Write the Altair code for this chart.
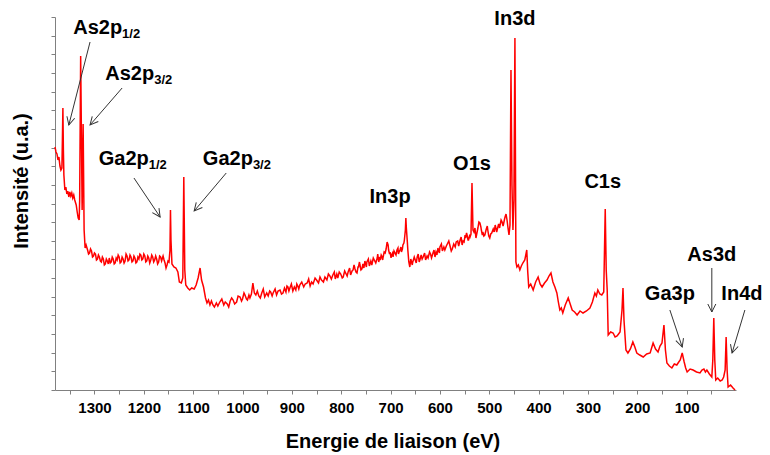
import math
import altair as alt
import pandas as pd

# ---- spectrum (binding energy in eV, intensity in arbitrary units), by region ----
as2p_E = [1380, 1378, 1376, 1374, 1372, 1370, 1368, 1366, 1365, 1364,
          1363, 1362, 1360, 1358, 1356, 1354, 1352, 1350, 1348, 1346,
          1344, 1342, 1340, 1337, 1335, 1333, 1331, 1330, 1328, 1326,
          1325, 1323, 1321, 1319, 1317, 1314, 1312, 1310, 1308, 1306]
as2p_I = [243, 238, 236, 230, 233, 224, 220, 222, 250, 282,
          240, 215, 200, 203, 196, 199, 193, 198, 194, 197,
          192, 195, 190, 185, 178, 172, 170, 190, 334, 230,
          180, 266, 160, 142, 145, 140, 136, 137, 141, 139]

ga2p_E = [1304, 1302, 1300, 1298, 1296, 1294, 1292, 1290, 1288, 1286,
          1284, 1282, 1280, 1278, 1276, 1274, 1272, 1270, 1268, 1266,
          1264, 1262, 1260, 1258, 1256, 1254, 1252, 1250, 1248, 1246,
          1244, 1242, 1240, 1238, 1236, 1234, 1232, 1230, 1228, 1226,
          1224, 1222, 1220, 1218, 1216, 1214, 1212, 1210, 1208, 1206,
          1204, 1202, 1200, 1198, 1196, 1194, 1192, 1190, 1188, 1186,
          1184, 1182, 1180, 1178, 1176, 1174, 1172, 1170, 1168, 1166,
          1164, 1161, 1159, 1157, 1155, 1153, 1151, 1149, 1147, 1146,
          1145, 1143, 1139, 1135, 1131, 1128, 1124, 1121, 1119, 1117,
          1115, 1111, 1107, 1103, 1098, 1094, 1090, 1086, 1083, 1079,
          1075, 1072, 1069]
ga2p_I = [133, 134, 137, 136, 130, 131, 135, 133, 129, 128,
          133, 131, 125, 126, 131, 129, 126, 132, 127, 128,
          133, 131, 126, 127, 132, 130, 135, 133, 127, 128,
          133, 131, 127, 129, 136, 134, 129, 130, 135, 133,
          128, 129, 134, 132, 127, 128, 133, 131, 136, 135,
          130, 131, 136, 134, 128, 129, 134, 132, 127, 130,
          135, 133, 128, 130, 134, 131, 126, 128, 134, 133,
          129, 134, 130, 127, 122, 125, 129, 128, 140, 180,
          150, 126, 123, 122, 118, 108, 107, 112, 213, 120,
          105, 102, 100, 102, 101, 105, 112, 122, 110, 103,
          92, 87, 90]

broad_E = [1066, 1063, 1060, 1057, 1053, 1050, 1046, 1042, 1038, 1035,
           1031, 1028, 1025, 1022, 1019, 1016, 1012, 1009, 1005, 1002,
           1000, 997, 995, 992, 990, 987, 985, 982, 979, 976,
           973, 970, 967, 964, 961, 958, 955, 951, 948, 945,
           943, 940, 938, 934, 931, 928, 924, 921, 918, 915,
           912, 910, 908, 906, 904, 901, 898, 895, 892, 890,
           888, 886, 884, 880, 876, 873, 869, 866, 863, 860,
           857, 853, 850, 846, 843, 840, 836, 833, 829, 826,
           823, 820, 817, 814, 812, 809, 807, 804, 801, 798,
           796, 793, 791, 788, 786, 783, 781, 778, 776, 774,
           772, 770, 768, 766, 765, 763, 762, 760, 758, 756,
           754, 752, 751, 749, 748, 745, 743, 740, 738, 735,
           733, 730, 727, 726, 724, 722, 721, 719, 718, 716,
           715, 713, 711, 709, 707, 705, 704, 702, 701, 699,
           698, 696, 695, 693, 691, 689, 687, 685, 684, 682,
           681, 679, 678, 676, 675, 673, 672, 670, 669, 668,
           667, 666, 665, 663, 661, 659, 658, 656, 655, 652,
           650, 648, 646, 644, 642, 640, 638, 636, 634, 631,
           629, 626, 624, 621, 619, 617, 614, 612, 610, 608,
           606, 604, 603, 601, 600, 597, 595, 592, 590, 587,
           585, 582, 580, 577, 575, 572, 569, 567, 564, 562,
           559, 557, 555, 553, 551, 549, 548, 546, 545, 543,
           542, 540, 539, 537, 535, 533, 531, 529, 527, 525,
           523, 521, 519, 517, 516, 514, 513, 511, 509, 507,
           506, 504, 503, 501, 499, 497, 495, 492, 490, 488,
           487, 485, 484, 482, 481, 479, 478, 476, 474, 472,
           471, 469, 468, 466, 464, 462, 460, 458]
broad_I = [85, 89, 85, 83, 87, 84, 88, 91, 85, 88,
           86, 83, 89, 92, 90, 86, 88, 94, 93, 89,
           91, 97, 95, 91, 90, 95, 92, 96, 107, 97,
           95, 99, 94, 92, 97, 101, 93, 97, 94, 99,
           98, 94, 97, 101, 95, 99, 100, 96, 97, 102,
           98, 104, 103, 99, 102, 106, 99, 103, 100, 106,
           104, 101, 105, 108, 103, 106, 107, 111, 104, 108,
           106, 112, 110, 107, 113, 110, 108, 113, 110, 116,
           114, 111, 115, 118, 111, 116, 112, 118, 116, 112,
           113, 119, 117, 114, 118, 122, 115, 119, 120, 125,
           121, 118, 117, 123, 123, 128, 125, 120, 121, 126,
           122, 129, 127, 123, 128, 131, 124, 129, 125, 132,
           130, 127, 132, 136, 128, 133, 130, 135, 134, 130,
           133, 138, 137, 141, 148, 145, 140, 136, 138, 132,
           135, 137, 133, 139, 137, 135, 140, 142, 136, 139,
           140, 143, 138, 141, 145, 147, 150, 160, 172, 162,
           155, 148, 140, 128, 123, 131, 129, 125, 128, 133,
           130, 127, 133, 136, 128, 131, 135, 131, 133, 137,
           130, 134, 132, 138, 136, 132, 137, 140, 133, 138,
           135, 142, 140, 137, 143, 146, 139, 143, 140, 144,
           146, 149, 145, 139, 141, 146, 143, 148, 149, 144,
           150, 153, 145, 149, 148, 155, 152, 157, 155, 150,
           150, 154, 153, 156, 207, 160, 158, 162, 152, 157,
           162, 168, 167, 163, 160, 155, 158, 154, 155, 159,
           161, 164, 160, 154, 152, 156, 157, 161, 158, 165,
           163, 158, 160, 164, 166, 162, 165, 170, 168, 164,
           166, 171, 173, 176, 170, 162, 155, 165]

low_E = [456, 454, 452, 450, 448, 446, 444, 441, 438, 435,
         432, 428, 424, 422, 420, 416, 411, 406, 401, 397,
         393, 388, 383, 379, 375, 371, 367, 363, 360, 357,
         354, 351, 346, 340, 336, 332, 327, 322, 316, 310,
         303, 296, 291, 286, 283, 280, 276, 272, 268, 265,
         263, 261, 259, 254, 249, 245, 241, 238, 235, 231,
         229, 227, 223, 219, 214, 209, 205, 201, 195, 188,
         181, 174, 171, 168, 163, 158, 154, 150, 146, 143,
         140, 135, 130, 125, 120, 116, 113, 109, 105, 102,
         99, 93, 87, 80, 73, 69, 65, 62, 59, 54,
         49, 47, 45, 43, 41, 37, 32, 28, 25, 22,
         20, 18, 16, 11, 6, 2]
low_I = [320, 205, 160, 190, 352, 128, 123, 125, 120, 124,
         127, 130, 140, 118, 103, 106, 100, 108, 113, 106,
         103, 107, 110, 114, 117, 108, 103, 97, 88, 80,
         82, 77, 85, 92, 86, 80, 78, 75, 79, 77,
         79, 82, 88, 97, 94, 100, 96, 95, 98, 181,
         120, 100, 55, 58, 57, 53, 54, 56, 58, 80,
         102, 70, 40, 37, 41, 48, 43, 37, 35, 33,
         36, 37, 42, 47, 41, 38, 44, 47, 65, 40,
         27, 24, 22, 26, 25, 28, 30, 37, 28, 22,
         18, 21, 20, 18, 17, 20, 21, 18, 20, 16,
         13, 30, 72, 30, 10, 12, 9, 10, 13, 20,
         53, 20, 3, 5, 2, 0]

# ---- axis ticks ----
x_tick_values = [1350, 1300, 1250, 1200, 1150, 1100, 1050, 1000, 950, 900, 850, 800, 750,
                 700, 650, 600, 550, 500, 450, 400, 350, 300, 250, 200, 150, 100, 50]

# ---- annotations (positions in data units) ----
sub_main_text = ["As2p", "As2p", "Ga2p", "Ga2p"]
sub_small_text = ["1/2", "3/2", "1/2", "3/2"]
sub_E = [1244, 1179, 1190, 979]
sub_main_I = [356, 310, 225, 225]
sub_small_I = [352, 306, 221, 221]

peak_text = ["In3p", "O1s", "In3d", "C1s", "Ga3p", "As3d", "In4d"]
peak_E = [701, 535, 448, 270, 134, 49, -12]
peak_I = [187, 220, 365, 202, 90, 129, 90]

arrow_E1 = [1309, 1244, 1220, 1033, 134, 49, -18]
arrow_I1 = [348, 302, 212, 217, 80, 122, 80]
arrow_E2 = [1352, 1309, 1167, 1098, 109, 49, 8]
arrow_I2 = [265, 265, 173, 179, 43, 78, 37]

W, H = 681, 373
E_MAX, I_MAX = 1380, 373
FONT = "Liberation Sans"

energy_eV = as2p_E + ga2p_E + broad_E + low_E
intensity = as2p_I + ga2p_I + broad_I + low_I
spec = pd.DataFrame({"E": energy_eV, "I": intensity})

angles = []
for e1, i1, e2, i2 in zip(arrow_E1, arrow_I1, arrow_E2, arrow_I2):
    dx = -(e2 - e1) * W / E_MAX
    dy = -(i2 - i1) * H / I_MAX
    angles.append(math.degrees(math.atan2(dy, dx)) % 360)
arrows = pd.DataFrame({"E1": arrow_E1, "I1": arrow_I1, "E2": arrow_E2, "I2": arrow_I2, "ang": angles})
subs = pd.DataFrame({"t": sub_main_text, "s": sub_small_text, "E": sub_E, "I": sub_main_I, "Is": sub_small_I})
peaks = pd.DataFrame({"t": peak_text, "E": peak_E, "I": peak_I})

xscale = alt.Scale(domain=[0, E_MAX], reverse=True, nice=False, zero=False)
yscale = alt.Scale(domain=[0, I_MAX], nice=False, zero=False)

y_tick_values = [round(i * I_MAX / 20, 3) for i in range(21)]

xaxis = alt.Axis(
    values=x_tick_values, format="d",
    labelExpr="datum.value % 100 == 0 ? datum.label : ''",
    title=None, grid=False, tickSize=4, labelPadding=6,
    labelFont=FONT, labelFontWeight="bold", labelFontSize=15, labelColor="#000000",
    domainColor="#808080", tickColor="#808080", labelFlush=False, labelOverlap=False)
yaxis = alt.Axis(
    values=y_tick_values, labels=False, title=None, grid=False, tickSize=4,
    domainColor="#808080", tickColor="#808080")


def X(f):
    return alt.X(f, scale=xscale, axis=xaxis, title=None)


def Y(f):
    return alt.Y(f, scale=yscale, axis=yaxis, title=None)


line = alt.Chart(spec).mark_line(color="#ff0000", strokeWidth=1.5).encode(
    x=X("E:Q"), y=Y("I:Q"),
)

rules = alt.Chart(arrows).mark_rule(color="#333333", strokeWidth=1).encode(
    x=X("E1:Q"), x2="E2:Q", y=Y("I1:Q"), y2="I2:Q",
)

heads = alt.Chart(arrows).mark_point(
    shape="M-1,-0.5L0,0L-1,0.5", filled=False, size=256, strokeWidth=1,
    color="#333333", opacity=1,
).encode(
    x=X("E2:Q"), y=Y("I2:Q"),
    angle=alt.Angle("ang:Q", scale=None),
)

sub_main = alt.Chart(subs).mark_text(
    font=FONT, fontWeight="bold", fontSize=20, align="right", baseline="alphabetic", color="#000000"
).encode(x=X("E:Q"), y=Y("I:Q"), text="t:N")

sub_small = alt.Chart(subs).mark_text(
    font=FONT, fontWeight="bold", fontSize=13, align="left", baseline="alphabetic", color="#000000"
).encode(x=X("E:Q"), y=Y("Is:Q"), text="s:N")

peak_lbl = alt.Chart(peaks).mark_text(
    font=FONT, fontWeight="bold", fontSize=20, align="center", baseline="alphabetic", color="#000000"
).encode(x=X("E:Q"), y=Y("I:Q"), text="t:N")

ytitle = alt.Chart(pd.DataFrame({"t": ["Intensité (u.a.)"]})).mark_text(
    font=FONT, fontWeight="bold", fontSize=20, angle=270, align="center", baseline="middle", color="#000000"
).encode(x=alt.value(-33), y=alt.value(164), text="t:N")

xtitle = alt.Chart(pd.DataFrame({"t": ["Energie de liaison (eV)"]})).mark_text(
    font=FONT, fontWeight="bold", fontSize=20, align="center", baseline="alphabetic", color="#000000"
).encode(x=alt.value(338), y=alt.value(431), text="t:N")

chart = alt.layer(line, rules, heads, sub_main, sub_small, peak_lbl, ytitle, xtitle).properties(
    width=W, height=H,
    autosize=alt.AutoSizeParams(type="none"),
    padding={"left": 47, "top": 9, "right": 26, "bottom": 63},
).configure_view(stroke=None)

chart.save("out.html", embed_options={"renderer": "svg", "actions": False})
